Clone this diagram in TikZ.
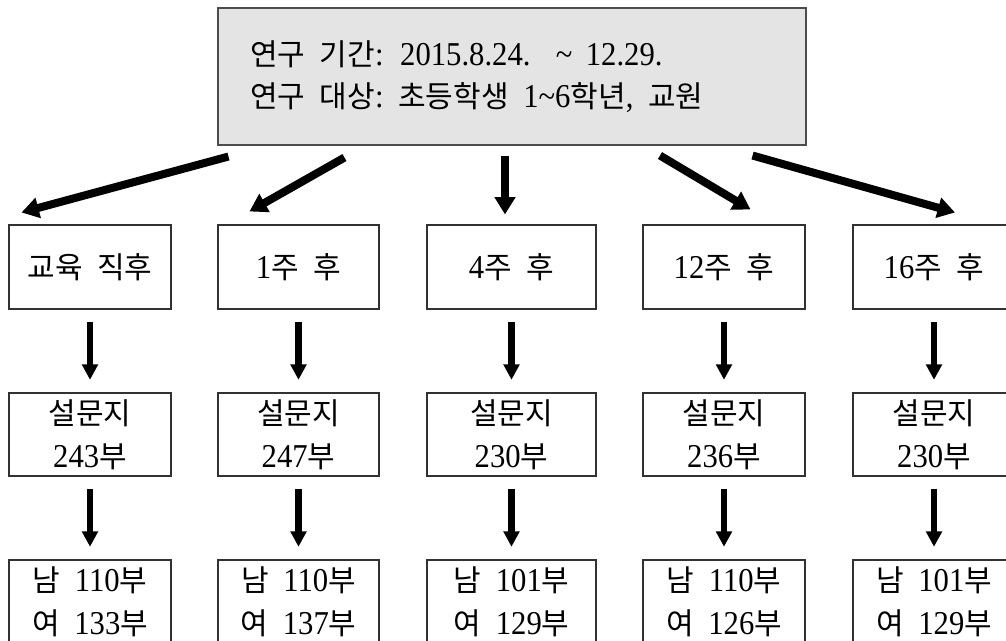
\documentclass[tikz,border=0pt]{standalone}
\usepackage{fontspec}
\setmainfont[FakeStretch=0.92]{Liberation Serif}
\newfontfamily\kr[Scale=0.9]{Noto Sans CJK KR}
\usetikzlibrary{arrows.meta,calc}
\definecolor{topfill}{RGB}{228,228,228}
\definecolor{edge}{RGB}{50,50,50}
\newcommand\ws{\hspace{11pt}}
\newcommand\tl{\textasciitilde}
\begin{document}
\begin{tikzpicture}[x=0.75pt,y=-0.75pt,
  box/.style={draw=edge, line width=0.8pt, inner sep=0pt, minimum width=121.5pt,
    align=center, font=\fontsize{25}{32}\selectfont},
  row1/.style={box, minimum height=63pt},
  row2/.style={box, minimum height=62.25pt},
  topbox/.style={draw=black!70, fill=topfill, line width=0.8pt, minimum width=441pt,
    minimum height=102.75pt, inner xsep=24pt, inner ysep=0pt, text width=393pt,
    align=left, font=\fontsize{25}{31.5}\selectfont},
  bigarrow/.style={line width=6pt, -{Triangle[length=13pt,width=15pt]}},
  varrow/.style={line width=5.2pt, -{Triangle[length=11.5pt,width=11.5pt]},
    shorten <=9pt, shorten >=9.5pt}]
\useasboundingbox (0,0) rectangle (1006,640);
\clip (0,0) rectangle (1006,640);

% top box
\node[topbox] (top) at (512,76.5)
  {{\kr 연구\ws 기간}: 2015.8.24.\hspace{19pt}\tl\hspace{10pt}12.29.\\
   {\kr 연구\ws 대상}:\ws{\kr 초등학생}\ws 1\tl 6{\kr 학년},\ws{\kr 교원}};

% row 1
\node[row1] (a1) at (90,267) {{\kr 교육\ws 직후}};
\node[row1, minimum width=120.75pt] (a2) at (298.5,267) {1{\kr 주\ws 후}};
\node[row1, minimum width=126.75pt] (a3) at (511.5,267) {4{\kr 주\ws 후}};
\node[row1] (a4) at (724,267) {12{\kr 주\ws 후}};
\node[row1] (a5) at (934,267) {16{\kr 주\ws 후}};

% row 2
\node[row2] (b1) at (90,434.5) {{\kr 설문지}\\243{\kr 부}};
\node[row2, minimum width=120.75pt] (b2) at (298.5,434.5) {{\kr 설문지}\\247{\kr 부}};
\node[row2, minimum width=126.75pt] (b3) at (511.5,434.5) {{\kr 설문지}\\230{\kr 부}};
\node[row2] (b4) at (724,434.5) {{\kr 설문지}\\236{\kr 부}};
\node[row2] (b5) at (934,434.5) {{\kr 설문지}\\230{\kr 부}};

% row 3
\node[row2] (c1) at (90,601.5) {{\kr 남}\ws 110{\kr 부}\\{\kr 여}\ws 133{\kr 부}};
\node[row2, minimum width=120.75pt] (c2) at (298.5,601.5) {{\kr 남}\ws 110{\kr 부}\\{\kr 여}\ws 137{\kr 부}};
\node[row2, minimum width=126.75pt] (c3) at (511.5,601.5) {{\kr 남}\ws 101{\kr 부}\\{\kr 여}\ws 129{\kr 부}};
\node[row2] (c4) at (724,601.5) {{\kr 남}\ws 110{\kr 부}\\{\kr 여}\ws 126{\kr 부}};
\node[row2] (c5) at (934,601.5) {{\kr 남}\ws 101{\kr 부}\\{\kr 여}\ws 129{\kr 부}};

% top arrows
\draw[bigarrow] ($(top.south west)+(11,11)$) -- ($(a1.north west)+(13,-12)$);
\draw[bigarrow] ($(top.south west)+(127,12)$) -- ($(a2.north west)+(32,-13)$);
\draw[bigarrow] ($(top.south)+(-7,10)$) -- ($(a3.north)+(-6.5,-10)$);
\draw[bigarrow] ($(top.south)+(148,10)$) -- ($(a4.north east)+(-55,-15)$);
\draw[bigarrow] ($(top.south east)+(-54,10)$) -- ($(a5.north)+(21,-12)$);

% vertical arrows
\foreach \i in {1,...,5} {
  \draw[varrow] (a\i) -- (b\i);
  \draw[varrow] (b\i) -- (c\i);
}
\end{tikzpicture}
\end{document}
